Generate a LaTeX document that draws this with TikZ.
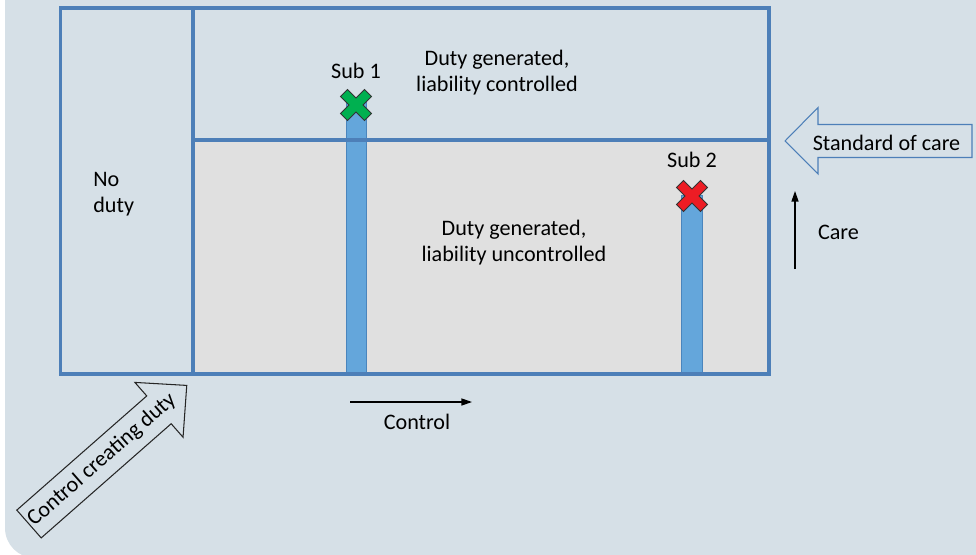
\documentclass[tikz,border=0pt]{standalone}
\usepackage{fontspec}
\setmainfont{Carlito}
\usetikzlibrary{arrows.meta}
\definecolor{bgc}{RGB}{214,224,231}
\definecolor{grayc}{RGB}{224,224,224}
\definecolor{framec}{RGB}{77,127,184}
\definecolor{barc}{RGB}{100,166,219}
\definecolor{barline}{RGB}{74,133,189}
\definecolor{greenx}{RGB}{0,176,80}
\definecolor{redx}{RGB}{237,28,36}
\tikzset{
  frame/.style={draw=framec, line width=2pt},
  subbar/.style={fill=barc, draw=barline, line width=0.5pt},
  crossmark/.style={draw=black!80, line width=0.5pt, line join=miter},
  lbl/.style={font=\fontsize{12.6}{14.8}\selectfont, inner sep=0pt, text=black},
  blockarrow/.style={line width=0.6pt, fill=bgc, line join=miter},
  thinarrow/.style={line width=0.7pt, -{Triangle[length=6pt,width=4pt]}}
}
\newcommand{\xshape}[3]{% center x, center y, colour
  \begin{scope}[shift={(#1,#2)}, rotate=45]
    \filldraw[crossmark, fill=#3] (-17,-5) -- (-5,-5) -- (-5,-17) -- (5,-17) -- (5,-5) -- (17,-5) -- (17,5) -- (5,5) -- (5,17) -- (-5,17) -- (-5,5) -- (-17,5) -- cycle;
  \end{scope}}
\begin{document}
\begin{tikzpicture}[x=0.02cm, y=-0.02cm]
\useasboundingbox (0,0) rectangle (976,554);
\clip (0,0) rectangle (976,554);
% background panel
\fill[bgc, rounded corners=0.6cm] (5,-60) rectangle (1040,558);
% gray region
\fill[grayc] (193,140) rectangle (769,374);
% bars
\filldraw[subbar] (346,100) rectangle (366,374);
\filldraw[subbar] (681,195) rectangle (702,374);
% frame
\draw[frame] (60.5,8) rectangle (769,374);
\draw[frame] (193,8) -- (193,374);
\draw[frame] (193,140) -- (769,140);
% crosses
\xshape{356}{105}{greenx}
\xshape{692}{196}{redx}
% texts
\node[lbl] (sub1) at (356,71) {Sub 1};
\node[lbl] (sub2) at (692,160) {Sub 2};
\node[lbl, align=center] (dgc) at (497,72.5) {Duty generated,\\liability controlled};
\node[lbl, align=center] (dgu) at (514,243) {Duty generated,\\liability uncontrolled};
\node[lbl, align=left, anchor=west] (noduty) at (93,194) {No\\duty};
% standard of care block arrow
\draw[blockarrow, draw=framec] (785,141) -- (818,107.5) -- (818,124.5) -- (972,124.5) -- (972,157.5) -- (818,157.5) -- (818,174) -- cycle;
\node[lbl] (soc) at (886.5,143) {Standard of care};
% care arrow
\coordinate (careA) at (795,269);
\coordinate (careB) at (795,191);
\draw[thinarrow] (careA) -- (careB);
\node[lbl] (care) at (838.5,232) {Care};
% control arrow
\coordinate (ctlA) at (350,402);
\coordinate (ctlB) at (472,402);
\draw[thinarrow] (ctlA) -- (ctlB);
\node[lbl] (control) at (417,422) {Control};
% control creating duty block arrow
\begin{scope}[shift={(29,524)}, rotate=41.3]
  \draw[blockarrow, draw=black!85] (0,-18.5) -- (173,-18.5) -- (173,-36.5) -- (210,0) -- (173,36.5) -- (173,18.5) -- (0,18.5) -- cycle;
  \node[lbl, rotate=41.3] (ccd) at (97,0) {Control creating duty};
\end{scope}
\end{tikzpicture}
\end{document}
